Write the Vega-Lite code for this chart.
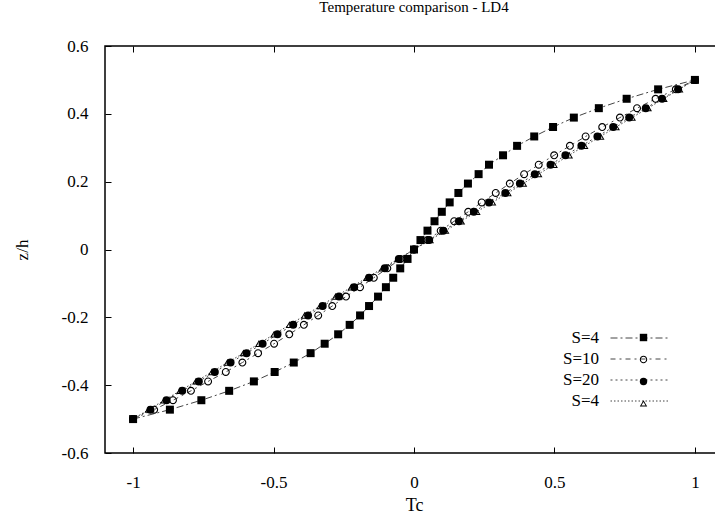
{
"$schema": "https://vega.github.io/schema/vega-lite/v6.json",
"autosize": {"type": "none"},
"padding": {"left": 105, "top": 46, "right": 0, "bottom": 69},
"width": 618,
"height": 407,
"background": "white",
"title": {"text": "Temperature comparison - LD4", "fontSize": 15, "fontWeight": "normal", "font": "Liberation Serif", "offset": 22, "color": "#000", "anchor": "middle"},
"config": {
  "font": "Liberation Serif",
  "view": {"stroke": "#000", "strokeWidth": 1.5},
  "axis": {"grid": false, "domain": false, "tickColor": "#000", "tickWidth": 1, "labelColor": "#000", "labelFont": "Liberation Serif", "titleFont": "Liberation Serif", "titleColor": "#000", "titleFontWeight": "normal"},
  "legend": {"labelFont": "Liberation Serif"}
},
"data": {"values": [
{"s":"S=4","z":-0.5,"t":-1},{"s":"S=4","z":-0.4722,"t":-0.869},{"s":"S=4","z":-0.4444,"t":-0.757},{"s":"S=4","z":-0.4167,"t":-0.658},{"s":"S=4","z":-0.3889,"t":-0.57},{"s":"S=4","z":-0.3611,"t":-0.496},{"s":"S=4","z":-0.3333,"t":-0.428},{"s":"S=4","z":-0.3056,"t":-0.368},{"s":"S=4","z":-0.2778,"t":-0.318},{"s":"S=4","z":-0.25,"t":-0.27},{"s":"S=4","z":-0.2222,"t":-0.229},{"s":"S=4","z":-0.1944,"t":-0.192},{"s":"S=4","z":-0.1667,"t":-0.16},{"s":"S=4","z":-0.1389,"t":-0.128},{"s":"S=4","z":-0.1111,"t":-0.1},{"s":"S=4","z":-0.0833,"t":-0.074},{"s":"S=4","z":-0.0556,"t":-0.049},{"s":"S=4","z":-0.0278,"t":-0.023},{"s":"S=4","z":0,"t":0},
{"s":"S=4","z":0.0278,"t":0.023},{"s":"S=4","z":0.0556,"t":0.048},{"s":"S=4","z":0.0833,"t":0.073},{"s":"S=4","z":0.1111,"t":0.099},{"s":"S=4","z":0.1389,"t":0.127},{"s":"S=4","z":0.1667,"t":0.158},{"s":"S=4","z":0.1944,"t":0.192},{"s":"S=4","z":0.2222,"t":0.23},{"s":"S=4","z":0.25,"t":0.267},{"s":"S=4","z":0.2778,"t":0.317},{"s":"S=4","z":0.3056,"t":0.367},{"s":"S=4","z":0.3333,"t":0.428},{"s":"S=4","z":0.3611,"t":0.495},{"s":"S=4","z":0.3889,"t":0.569},{"s":"S=4","z":0.4167,"t":0.658},{"s":"S=4","z":0.4444,"t":0.757},{"s":"S=4","z":0.4722,"t":0.869},{"s":"S=4","z":0.5,"t":1},
{"s":"S=10","z":-0.5,"t":-1},{"s":"S=10","z":-0.4722,"t":-0.925},{"s":"S=10","z":-0.4444,"t":-0.858},{"s":"S=10","z":-0.4167,"t":-0.794},{"s":"S=10","z":-0.3889,"t":-0.733},{"s":"S=10","z":-0.3611,"t":-0.67},{"s":"S=10","z":-0.3333,"t":-0.611},{"s":"S=10","z":-0.3056,"t":-0.555},{"s":"S=10","z":-0.2778,"t":-0.498},{"s":"S=10","z":-0.25,"t":-0.444},{"s":"S=10","z":-0.2222,"t":-0.392},{"s":"S=10","z":-0.1944,"t":-0.341},{"s":"S=10","z":-0.1667,"t":-0.291},{"s":"S=10","z":-0.1389,"t":-0.242},{"s":"S=10","z":-0.1111,"t":-0.192},{"s":"S=10","z":-0.0833,"t":-0.143},{"s":"S=10","z":-0.0556,"t":-0.095},{"s":"S=10","z":-0.0278,"t":-0.048},{"s":"S=10","z":0,"t":0},
{"s":"S=10","z":0.0278,"t":0.048},{"s":"S=10","z":0.0556,"t":0.095},{"s":"S=10","z":0.0833,"t":0.143},{"s":"S=10","z":0.1111,"t":0.193},{"s":"S=10","z":0.1389,"t":0.241},{"s":"S=10","z":0.1667,"t":0.291},{"s":"S=10","z":0.1944,"t":0.341},{"s":"S=10","z":0.2222,"t":0.392},{"s":"S=10","z":0.25,"t":0.444},{"s":"S=10","z":0.2778,"t":0.499},{"s":"S=10","z":0.3056,"t":0.555},{"s":"S=10","z":0.3333,"t":0.611},{"s":"S=10","z":0.3611,"t":0.67},{"s":"S=10","z":0.3889,"t":0.733},{"s":"S=10","z":0.4167,"t":0.794},{"s":"S=10","z":0.4444,"t":0.86},{"s":"S=10","z":0.4722,"t":0.932},{"s":"S=10","z":0.5,"t":1},
{"s":"S=20","z":-0.5,"t":-1},{"s":"S=20","z":-0.4722,"t":-0.938},{"s":"S=20","z":-0.4444,"t":-0.881},{"s":"S=20","z":-0.4167,"t":-0.825},{"s":"S=20","z":-0.3889,"t":-0.766},{"s":"S=20","z":-0.3611,"t":-0.709},{"s":"S=20","z":-0.3333,"t":-0.653},{"s":"S=20","z":-0.3056,"t":-0.596},{"s":"S=20","z":-0.2778,"t":-0.539},{"s":"S=20","z":-0.25,"t":-0.486},{"s":"S=20","z":-0.2222,"t":-0.43},{"s":"S=20","z":-0.1944,"t":-0.377},{"s":"S=20","z":-0.1667,"t":-0.325},{"s":"S=20","z":-0.1389,"t":-0.267},{"s":"S=20","z":-0.1111,"t":-0.213},{"s":"S=20","z":-0.0833,"t":-0.16},{"s":"S=20","z":-0.0556,"t":-0.104},{"s":"S=20","z":-0.0278,"t":-0.054},{"s":"S=20","z":0,"t":0},
{"s":"S=20","z":0.0278,"t":0.054},{"s":"S=20","z":0.0556,"t":0.104},{"s":"S=20","z":0.0833,"t":0.16},{"s":"S=20","z":0.1111,"t":0.213},{"s":"S=20","z":0.1389,"t":0.267},{"s":"S=20","z":0.1667,"t":0.325},{"s":"S=20","z":0.1944,"t":0.377},{"s":"S=20","z":0.2222,"t":0.43},{"s":"S=20","z":0.25,"t":0.486},{"s":"S=20","z":0.2778,"t":0.539},{"s":"S=20","z":0.3056,"t":0.596},{"s":"S=20","z":0.3333,"t":0.653},{"s":"S=20","z":0.3611,"t":0.709},{"s":"S=20","z":0.3889,"t":0.766},{"s":"S=20","z":0.4167,"t":0.825},{"s":"S=20","z":0.4444,"t":0.883},{"s":"S=20","z":0.4722,"t":0.94},{"s":"S=20","z":0.5,"t":1},
{"s":"S=4 (2)","z":-0.5,"t":-1},{"s":"S=4 (2)","z":-0.4722,"t":-0.945},{"s":"S=4 (2)","z":-0.4444,"t":-0.889},{"s":"S=4 (2)","z":-0.4167,"t":-0.833},{"s":"S=4 (2)","z":-0.3889,"t":-0.776},{"s":"S=4 (2)","z":-0.3611,"t":-0.719},{"s":"S=4 (2)","z":-0.3333,"t":-0.664},{"s":"S=4 (2)","z":-0.3056,"t":-0.607},{"s":"S=4 (2)","z":-0.2778,"t":-0.552},{"s":"S=4 (2)","z":-0.25,"t":-0.498},{"s":"S=4 (2)","z":-0.2222,"t":-0.443},{"s":"S=4 (2)","z":-0.1944,"t":-0.389},{"s":"S=4 (2)","z":-0.1667,"t":-0.334},{"s":"S=4 (2)","z":-0.1389,"t":-0.279},{"s":"S=4 (2)","z":-0.1111,"t":-0.223},{"s":"S=4 (2)","z":-0.0833,"t":-0.168},{"s":"S=4 (2)","z":-0.0556,"t":-0.112},{"s":"S=4 (2)","z":-0.0278,"t":-0.057},{"s":"S=4 (2)","z":0,"t":0},
{"s":"S=4 (2)","z":0.0278,"t":0.057},{"s":"S=4 (2)","z":0.0556,"t":0.112},{"s":"S=4 (2)","z":0.0833,"t":0.168},{"s":"S=4 (2)","z":0.1111,"t":0.223},{"s":"S=4 (2)","z":0.1389,"t":0.279},{"s":"S=4 (2)","z":0.1667,"t":0.334},{"s":"S=4 (2)","z":0.1944,"t":0.389},{"s":"S=4 (2)","z":0.2222,"t":0.443},{"s":"S=4 (2)","z":0.25,"t":0.498},{"s":"S=4 (2)","z":0.2778,"t":0.552},{"s":"S=4 (2)","z":0.3056,"t":0.607},{"s":"S=4 (2)","z":0.3333,"t":0.664},{"s":"S=4 (2)","z":0.3611,"t":0.719},{"s":"S=4 (2)","z":0.3889,"t":0.776},{"s":"S=4 (2)","z":0.4167,"t":0.833},{"s":"S=4 (2)","z":0.4444,"t":0.889},{"s":"S=4 (2)","z":0.4722,"t":0.945},{"s":"S=4 (2)","z":0.5,"t":1}
]},
"layer": [
  {
    "mark": {"type": "line", "stroke": "#444", "strokeWidth": 1},
    "encoding": {
      "x": {"field": "t", "type": "quantitative", "scale": {"domain": [-1.1, 1.1], "nice": false, "zero": false},
        "axis": {"orient": "bottom", "values": [-1, -0.5, 0, 0.5, 1], "tickSize": -6, "labelPadding": 27, "labelFontSize": 17,
          "labelExpr": "datum.value < 0 ? '-' + format(-datum.value, '~g') : format(datum.value, '~g')",
          "title": "Tc", "titleFontSize": 18, "titlePadding": 6}},
      "y": {"field": "z", "type": "quantitative", "scale": {"domain": [-0.6, 0.6], "nice": false, "zero": false},
        "axis": {"values": [-0.6, -0.4, -0.2, 0, 0.2, 0.4, 0.6], "tickSize": -6, "labelPadding": 23, "labelFontSize": 17,
          "labelExpr": "datum.value < 0 ? '-' + format(-datum.value, '~g') : format(datum.value, '~g')",
          "title": "z/h", "titleFontSize": 17, "titlePadding": 30}},
      "order": {"field": "z", "type": "quantitative"},
      "strokeDash": {"field": "s", "type": "nominal", "sort": ["S=4", "S=10", "S=20", "S=4 (2)"],
        "scale": {"range": [[7, 3, 2, 3], [5, 4, 2, 4], [2, 3], [1.5, 2]]},
        "legend": {"orient": "none", "legendX": 525.5, "legendY": 283, "title": null, "padding": 0, "symbolType": "M-3.41,0H3.41", "symbolSize": 289,
          "symbolStrokeColor": "#444", "symbolStrokeWidth": 1, "labelAlign": "right", "labelOffset": -49.5, "labelFontSize": 17, "labelColor": "#000",
          "rowPadding": 4, "labelExpr": "replace(datum.label, ' (2)', '')"}}
    }
  },
  {
    "mark": {"type": "point", "filled": true, "fill": "#000", "strokeWidth": 0, "size": 64, "opacity": 1},
    "encoding": {
      "x": {"field": "t", "type": "quantitative",
        "axis": {"orient": "top", "values": [-1, -0.5, 0, 0.5, 1], "tickSize": -6, "labels": false, "title": null}},
      "y": {"field": "z", "type": "quantitative"},
      "shape": {"field": "s", "type": "nominal",
        "scale": {"domain": ["S=4", "S=10", "S=20", "S=4 (2)"],
          "range": ["square",
            "M-1,0A1,1 0 1,1 1,0A1,1 0 1,1 -1,0Z M-0.72,0A0.72,0.72 0 1,0 0.72,0A0.72,0.72 0 1,0 -0.72,0Z",
            "circle",
            "M0,-0.9L1,0.8L-1,0.8Z M0,-0.407L-0.563,0.55L0.563,0.55Z"]},
        "legend": {"orient": "none", "legendX": 530, "legendY": 283, "title": null, "padding": 0, "symbolSize": 55,
          "symbolFillColor": "#000", "symbolStrokeWidth": 0, "labelOpacity": 0, "labelFontSize": 17, "rowPadding": 4,
          "labelExpr": "replace(datum.label, ' (2)', '')"}}
    }
  }
],
"resolve": {"axis": {"x": "independent"}}
}
